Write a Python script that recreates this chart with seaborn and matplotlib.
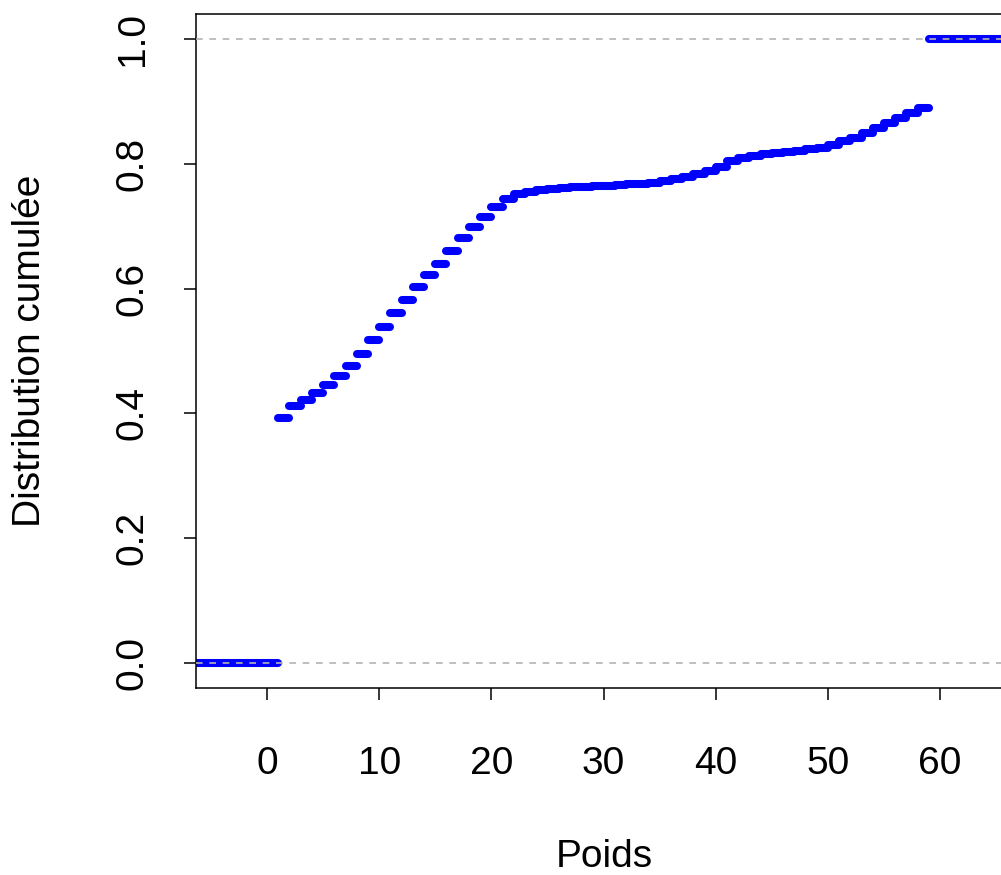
import matplotlib

matplotlib.use("Agg")
import matplotlib.pyplot as plt
import pandas as pd
import seaborn as sns

# Sauts de la fonction de répartition empirique
poids = [1, 2, 3, 4, 5, 6, 7, 8, 9, 10, 11, 12, 13, 14, 15, 16, 17, 18, 19, 20,
         21, 22, 23, 24, 25, 26, 27, 28, 29, 30, 31, 32, 33, 34, 35, 36, 37, 38, 39, 40,
         41, 42, 43, 44, 45, 46, 47, 48, 49, 50, 51, 52, 53, 54, 55, 56, 57, 58, 59]
cumul = [0.392, 0.412, 0.421, 0.433, 0.446, 0.460, 0.476, 0.495, 0.517, 0.538,
         0.561, 0.582, 0.603, 0.621, 0.640, 0.661, 0.681, 0.699, 0.715, 0.730,
         0.743, 0.751, 0.755, 0.758, 0.760, 0.761, 0.762, 0.763, 0.764, 0.765,
         0.766, 0.767, 0.768, 0.770, 0.772, 0.775, 0.779, 0.784, 0.789, 0.795,
         0.804, 0.810, 0.813, 0.815, 0.817, 0.819, 0.821, 0.823, 0.826, 0.830,
         0.836, 0.842, 0.850, 0.858, 0.866, 0.873, 0.881, 0.890, 1.000]

x_ticks = [0, 10, 20, 30, 40, 50, 60]
y_ticks = [0.0, 0.2, 0.4, 0.6, 0.8, 1.0]
XLIM = (-6.33, 66.5)
YLIM = (-0.04, 1.04)
FS = 28

sns.set_style("white")
plt.rcParams["font.family"] = ["Liberation Sans", "DejaVu Sans"]

# segments horizontaux (pas de verticales), comme plot.ecdf
rows = [{"seg": 0, "x": XLIM[0] - 5, "F": 0.0}, {"seg": 0, "x": poids[0], "F": 0.0}]
for i in range(len(poids)):
    x_end = poids[i + 1] if i + 1 < len(poids) else XLIM[1] + 5
    rows.append({"seg": i + 1, "x": poids[i], "F": cumul[i]})
    rows.append({"seg": i + 1, "x": x_end, "F": cumul[i]})
df = pd.DataFrame(rows)

fig = plt.figure(figsize=(10.01, 8.75), dpi=100)
ax = fig.add_axes([196 / 1001, 187 / 875, 817 / 1001, 674 / 875])

sns.lineplot(data=df, x="x", y="F", units="seg", estimator=None, sort=False,
             color="#0000FF", linewidth=5.8, solid_capstyle="round", ax=ax)
for h in (0, 1):
    ax.axhline(h, color="#B3B3B3", linestyle=(0, (4, 4)), linewidth=1.2, zorder=3)

ax.set_xlim(*XLIM)
ax.set_ylim(*YLIM)
ax.set_xticks(x_ticks)
ax.set_xticklabels([str(t) for t in x_ticks])
ax.set_yticks(y_ticks)
ax.set_yticklabels([f"{t:.1f}" for t in y_ticks], rotation=90, va="center")
ax.tick_params(axis="both", direction="out", length=8.6, width=1.1, labelsize=FS,
               color="black", labelcolor="black", bottom=True, left=True)
ax.tick_params(axis="x", pad=33)
ax.tick_params(axis="y", pad=24)
for s in ax.spines.values():
    s.set_visible(True)
    s.set_color("black")
    s.set_linewidth(1.1)

ax.set_xlabel("Poids", fontsize=FS, va="center", color="black")
ax.set_ylabel("Distribution cumulée", fontsize=FS, va="center", color="black")
ax.xaxis.set_label_coords(0.5, -0.2507)
ax.yaxis.set_label_coords(-0.203, 0.5)

fig.savefig("out.png", dpi=100)
